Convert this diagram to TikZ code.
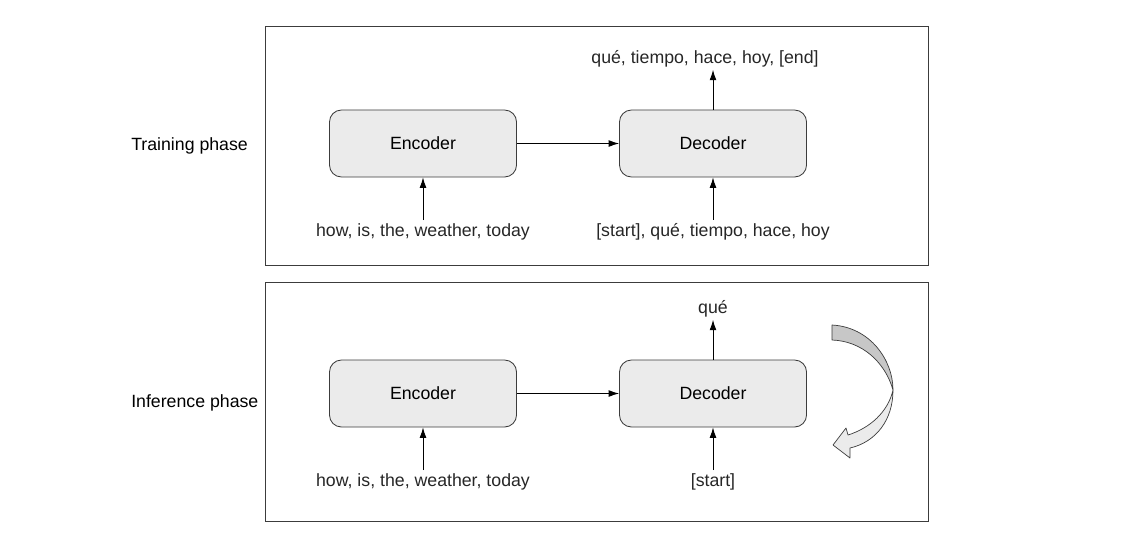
\documentclass[tikz,border=0pt]{standalone}
\usepackage{fontspec}
\setmainfont{Liberation Sans}
\usetikzlibrary{arrows.meta}
\definecolor{boxfill}{RGB}{235,235,235}
\definecolor{edgegray}{RGB}{60,60,60}

\begin{document}
\begin{tikzpicture}[x=0.025cm,y=-0.025cm,>={Latex[length=2.6mm,width=1.7mm]},
  font=\fontsize{12.6}{15}\selectfont,
  phasebox/.style={draw=edgegray,line width=0.6pt},
  coderbox/.style={draw=edgegray,line width=0.6pt,rounded corners=3mm,fill=boxfill,minimum width=4.675cm,minimum height=1.675cm},
  seqtext/.style={anchor=base,inner sep=2pt,text=black!85},
  flow/.style={->,line width=0.6pt}]
\useasboundingbox (0,0) rectangle (1123,535);
% training phase
\draw[phasebox] (265,26) rectangle (928,265);
\node[anchor=base west,inner sep=0pt] (train_lbl) at (131,150) {Training phase};
\node[coderbox] (tr_enc) at (423,143.5) {Encoder};
\node[coderbox] (tr_dec) at (713,143.5) {Decoder};
\node[seqtext] (tr_in) at (423,236) {how, is, the, weather, today};
\node[seqtext] (tr_din) at (713,236) {[start], qué, tiempo, hace, hoy};
\node[seqtext] (tr_out) at (705,63) {qué, tiempo, hace, hoy, [end]};
\draw[flow] (tr_enc.east) -- (tr_dec.west);
\draw[flow] (tr_in.north) -- (tr_enc.south);
\draw[flow] (tr_din.north -| tr_dec.south) -- (tr_dec.south);
\draw[flow] (tr_dec.north) -- (tr_dec.north |- tr_out.south);
% inference phase
\draw[phasebox] (265,282) rectangle (928,521);
\node[anchor=base west,inner sep=0pt] (inf_lbl) at (131,407) {Inference phase};
\node[coderbox] (in_enc) at (423,393.5) {Encoder};
\node[coderbox] (in_dec) at (713,393.5) {Decoder};
\node[seqtext] (in_in) at (423,486) {how, is, the, weather, today};
\node[seqtext] (in_din) at (713,486) {[start]};
\node[seqtext] (in_out) at (713,313) {qué};
\draw[flow] (in_enc.east) -- (in_dec.west);
\draw[flow] (in_in.north) -- (in_enc.south);
\draw[flow] (in_din.north) -- (in_dec.south);
\draw[flow] (in_dec.north) -- (in_out.south);
% feedback ribbon
\draw[draw=edgegray,line width=0.5pt,fill=black!22,line join=round]
  (832,325) .. controls (870,327) and (893,360) .. (893,390)
  .. controls (885,362) and (862,341) .. (832,340) -- cycle;
\draw[draw=edgegray,line width=0.5pt,fill=black!8,line join=round]
  (893,390) .. controls (893,420) and (876,442) .. (850,448)
  -- (850,458) -- (833,445) -- (846,428) -- (848,435)
  .. controls (870,428) and (888,412) .. (893,390) -- cycle;
\end{tikzpicture}
\end{document}
